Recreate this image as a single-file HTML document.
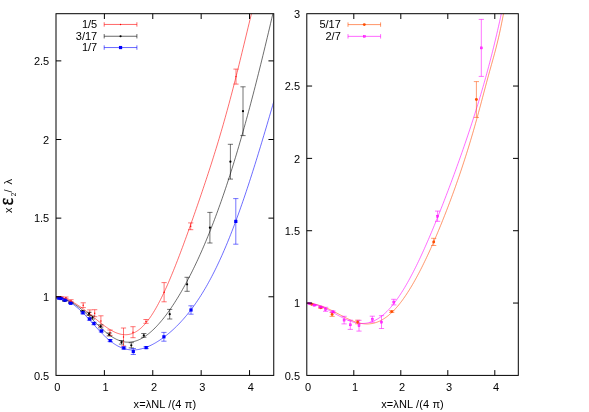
<!DOCTYPE html>
<html><head><meta charset="utf-8"><title>plot</title>
<style>html,body{margin:0;padding:0;background:#fff;}body{width:589px;height:412px;position:relative;overflow:hidden;font-family:"Liberation Sans",sans-serif;}</style>
</head><body>
<svg width="589" height="412" viewBox="0 0 589 412" style="position:absolute;left:0;top:0;display:block;will-change:transform" font-family="Liberation Sans, sans-serif" font-size="11" fill="#000">
<defs><clipPath id="cl"><rect x="56.00" y="13.70" width="217.75" height="361.70"/></clipPath><clipPath id="cr"><rect x="306.80" y="13.70" width="211.50" height="361.70"/></clipPath></defs>
<g clip-path="url(#cl)">
<path d="M56.00,296.77 L56.99,296.89 L57.99,297.04 L58.98,297.21 L59.98,297.40 L60.97,297.62 L61.97,297.86 L62.96,298.13 L63.96,298.42 L64.95,298.74 L65.95,299.08 L66.94,299.45 L67.94,299.85 L68.93,300.27 L69.93,300.72 L70.92,301.19 L71.92,301.69 L72.91,302.21 L73.91,302.76 L74.90,303.33 L75.90,303.92 L76.89,304.54 L77.89,305.17 L78.88,305.83 L79.88,306.50 L80.87,307.20 L81.87,307.91 L82.86,308.64 L83.86,309.38 L84.85,310.14 L85.85,310.91 L86.84,311.69 L87.84,312.49 L88.83,313.29 L89.83,314.10 L90.82,314.91 L91.82,315.73 L92.81,316.55 L93.81,317.38 L94.80,318.20 L95.80,319.02 L96.79,319.84 L97.79,320.66 L98.78,321.46 L99.78,322.26 L100.77,323.05 L101.77,323.83 L102.76,324.59 L103.76,325.34 L104.75,326.08 L105.75,326.79 L106.74,327.49 L107.74,328.16 L108.73,328.81 L109.73,329.43 L110.72,330.03 L111.72,330.60 L112.71,331.14 L113.71,331.65 L114.70,332.13 L115.70,332.57 L116.69,332.97 L117.69,333.33 L118.68,333.66 L119.68,333.95 L120.67,334.19 L121.67,334.39 L122.66,334.55 L123.66,334.65 L124.65,334.72 L125.65,334.73 L126.64,334.69 L127.64,334.60 L128.63,334.46 L129.63,334.27 L130.62,334.02 L131.62,333.72 L132.61,333.36 L133.61,332.95 L134.60,332.47 L135.60,331.94 L136.59,331.36 L137.59,330.71 L138.58,330.00 L139.58,329.24 L140.57,328.41 L141.57,327.52 L142.56,326.58 L143.56,325.57 L144.55,324.51 L145.55,323.38 L146.54,322.20 L147.54,320.95 L148.53,319.65 L149.53,318.29 L150.52,316.87 L151.52,315.40 L152.51,313.87 L153.51,312.28 L154.50,310.64 L155.50,308.95 L156.49,307.20 L157.49,305.41 L158.48,303.56 L159.48,301.67 L160.47,299.72 L161.47,297.73 L162.46,295.70 L163.46,293.62 L164.45,291.50 L165.45,289.33 L166.44,287.13 L167.44,284.89 L168.43,282.61 L169.43,280.29 L170.42,277.94 L171.42,275.56 L172.41,273.14 L173.41,270.70 L174.40,268.22 L175.40,265.72 L176.39,263.19 L177.39,260.63 L178.38,258.05 L179.38,255.45 L180.37,252.83 L181.37,250.18 L182.36,247.52 L183.36,244.84 L184.35,242.14 L185.35,239.42 L186.34,236.69 L187.34,233.94 L188.33,231.18 L189.33,228.40 L190.32,225.61 L191.32,222.81 L192.31,220.00 L193.31,217.17 L194.30,214.33 L195.30,211.48 L196.29,208.62 L197.29,205.75 L198.28,202.87 L199.28,199.98 L200.27,197.07 L201.27,194.15 L202.26,191.22 L203.26,188.27 L204.25,185.31 L205.25,182.33 L206.24,179.34 L207.24,176.33 L208.23,173.29 L209.23,170.24 L210.22,167.17 L211.22,164.08 L212.21,160.96 L213.21,157.82 L214.20,154.65 L215.20,151.45 L216.19,148.22 L217.19,144.97 L218.18,141.68 L219.18,138.36 L220.17,135.01 L221.17,131.63 L222.16,128.21 L223.16,124.75 L224.15,121.26 L225.15,117.73 L226.14,114.17 L227.14,110.56 L228.13,106.92 L229.13,103.25 L230.12,99.53 L231.12,95.78 L232.11,91.99 L233.11,88.17 L234.10,84.31 L235.10,80.41 L236.09,76.49 L237.09,72.54 L238.08,68.55 L239.08,64.54 L240.07,60.51 L241.07,56.45 L242.06,52.38 L243.06,48.29 L244.05,44.19 L245.05,40.08 L246.04,35.97 L247.04,31.86 L248.03,27.75 L249.03,23.66 L250.02,19.58 L251.02,15.53 L252.01,11.50 L253.01,7.52 L254.00,3.57" fill="none" stroke="#ff0000" stroke-width="0.58"/>
<path d="M56.00,296.77 L57.10,296.87 L58.20,297.05 L59.30,297.30 L60.40,297.60 L61.50,297.94 L62.60,298.32 L63.70,298.74 L64.80,299.18 L65.90,299.65 L67.01,300.14 L68.11,300.66 L69.21,301.20 L70.31,301.77 L71.41,302.37 L72.51,302.99 L73.61,303.65 L74.71,304.33 L75.81,305.05 L76.91,305.81 L78.01,306.59 L79.11,307.41 L80.21,308.27 L81.31,309.15 L82.41,310.07 L83.51,311.01 L84.61,311.98 L85.71,312.98 L86.81,314.00 L87.91,315.04 L89.02,316.10 L90.12,317.17 L91.22,318.26 L92.32,319.35 L93.42,320.45 L94.52,321.55 L95.62,322.65 L96.72,323.74 L97.82,324.82 L98.92,325.90 L100.02,326.96 L101.12,328.00 L102.22,329.02 L103.32,330.02 L104.42,330.99 L105.52,331.94 L106.62,332.85 L107.72,333.73 L108.82,334.57 L109.92,335.38 L111.03,336.15 L112.13,336.88 L113.23,337.56 L114.33,338.20 L115.43,338.80 L116.53,339.35 L117.63,339.85 L118.73,340.31 L119.83,340.72 L120.93,341.08 L122.03,341.39 L123.13,341.65 L124.23,341.85 L125.33,342.01 L126.43,342.12 L127.53,342.17 L128.63,342.18 L129.73,342.13 L130.83,342.03 L131.93,341.89 L133.04,341.69 L134.14,341.44 L135.24,341.14 L136.34,340.80 L137.44,340.40 L138.54,339.95 L139.64,339.46 L140.74,338.92 L141.84,338.34 L142.94,337.70 L144.04,337.03 L145.14,336.31 L146.24,335.54 L147.34,334.73 L148.44,333.88 L149.54,332.99 L150.64,332.05 L151.74,331.08 L152.84,330.06 L153.94,329.01 L155.05,327.92 L156.15,326.79 L157.25,325.62 L158.35,324.42 L159.45,323.18 L160.55,321.91 L161.65,320.60 L162.75,319.26 L163.85,317.88 L164.95,316.47 L166.05,315.02 L167.15,313.54 L168.25,312.03 L169.35,310.49 L170.45,308.91 L171.55,307.30 L172.65,305.66 L173.75,303.99 L174.85,302.29 L175.95,300.55 L177.06,298.79 L178.16,296.99 L179.26,295.16 L180.36,293.30 L181.46,291.41 L182.56,289.49 L183.66,287.53 L184.76,285.55 L185.86,283.53 L186.96,281.48 L188.06,279.40 L189.16,277.29 L190.26,275.15 L191.36,272.98 L192.46,270.77 L193.56,268.53 L194.66,266.26 L195.76,263.95 L196.86,261.62 L197.96,259.25 L199.07,256.85 L200.17,254.41 L201.27,251.94 L202.37,249.44 L203.47,246.90 L204.57,244.33 L205.67,241.73 L206.77,239.09 L207.87,236.41 L208.97,233.71 L210.07,230.96 L211.17,228.18 L212.27,225.37 L213.37,222.51 L214.47,219.63 L215.57,216.70 L216.67,213.74 L217.77,210.75 L218.87,207.71 L219.97,204.64 L221.08,201.54 L222.18,198.39 L223.28,195.21 L224.38,191.99 L225.48,188.73 L226.58,185.43 L227.68,182.10 L228.78,178.73 L229.88,175.32 L230.98,171.87 L232.08,168.38 L233.18,164.85 L234.28,161.29 L235.38,157.69 L236.48,154.05 L237.58,150.37 L238.68,146.65 L239.78,142.89 L240.88,139.10 L241.98,135.27 L243.09,131.40 L244.19,127.49 L245.29,123.55 L246.39,119.57 L247.49,115.55 L248.59,111.49 L249.69,107.40 L250.79,103.27 L251.89,99.11 L252.99,94.91 L254.09,90.67 L255.19,86.41 L256.29,82.10 L257.39,77.77 L258.49,73.40 L259.59,69.00 L260.69,64.56 L261.79,60.10 L262.89,55.61 L263.99,51.08 L265.10,46.53 L266.20,41.95 L267.30,37.34 L268.40,32.71 L269.50,28.05 L270.60,23.36 L271.70,18.66 L272.80,13.93 L273.90,9.18 L275.00,4.41" fill="none" stroke="#000000" stroke-width="0.58"/>
<path d="M56.00,296.77 L57.11,296.92 L58.21,297.14 L59.32,297.41 L60.42,297.74 L61.53,298.11 L62.63,298.52 L63.74,298.97 L64.84,299.46 L65.95,299.99 L67.06,300.56 L68.16,301.16 L69.27,301.81 L70.37,302.49 L71.48,303.20 L72.58,303.96 L73.69,304.76 L74.79,305.59 L75.90,306.47 L77.01,307.38 L78.11,308.33 L79.22,309.31 L80.32,310.33 L81.43,311.38 L82.53,312.46 L83.64,313.57 L84.74,314.70 L85.85,315.86 L86.95,317.04 L88.06,318.23 L89.17,319.44 L90.27,320.66 L91.38,321.89 L92.48,323.12 L93.59,324.35 L94.69,325.58 L95.80,326.81 L96.90,328.02 L98.01,329.23 L99.12,330.41 L100.22,331.59 L101.33,332.74 L102.43,333.86 L103.54,334.96 L104.64,336.03 L105.75,337.07 L106.85,338.08 L107.96,339.05 L109.07,339.99 L110.17,340.89 L111.28,341.75 L112.38,342.57 L113.49,343.35 L114.59,344.09 L115.70,344.79 L116.80,345.44 L117.91,346.05 L119.02,346.61 L120.12,347.13 L121.23,347.60 L122.33,348.03 L123.44,348.42 L124.54,348.76 L125.65,349.06 L126.75,349.31 L127.86,349.52 L128.96,349.69 L130.07,349.82 L131.18,349.90 L132.28,349.95 L133.39,349.95 L134.49,349.91 L135.60,349.84 L136.70,349.72 L137.81,349.57 L138.91,349.39 L140.02,349.17 L141.13,348.91 L142.23,348.62 L143.34,348.30 L144.44,347.94 L145.55,347.56 L146.65,347.14 L147.76,346.70 L148.86,346.22 L149.97,345.72 L151.08,345.19 L152.18,344.64 L153.29,344.06 L154.39,343.45 L155.50,342.82 L156.60,342.16 L157.71,341.48 L158.81,340.78 L159.92,340.05 L161.03,339.30 L162.13,338.53 L163.24,337.73 L164.34,336.91 L165.45,336.07 L166.55,335.20 L167.66,334.31 L168.76,333.40 L169.87,332.47 L170.97,331.51 L172.08,330.53 L173.19,329.52 L174.29,328.49 L175.40,327.44 L176.50,326.36 L177.61,325.26 L178.71,324.13 L179.82,322.97 L180.92,321.80 L182.03,320.59 L183.14,319.36 L184.24,318.10 L185.35,316.81 L186.45,315.49 L187.56,314.15 L188.66,312.77 L189.77,311.37 L190.87,309.93 L191.98,308.47 L193.09,306.97 L194.19,305.45 L195.30,303.89 L196.40,302.29 L197.51,300.67 L198.61,299.01 L199.72,297.31 L200.82,295.59 L201.93,293.82 L203.04,292.02 L204.14,290.19 L205.25,288.32 L206.35,286.41 L207.46,284.46 L208.56,282.48 L209.67,280.45 L210.77,278.39 L211.88,276.29 L212.98,274.15 L214.09,271.98 L215.20,269.76 L216.30,267.50 L217.41,265.20 L218.51,262.87 L219.62,260.49 L220.72,258.07 L221.83,255.61 L222.93,253.11 L224.04,250.57 L225.15,248.00 L226.25,245.38 L227.36,242.72 L228.46,240.02 L229.57,237.28 L230.67,234.50 L231.78,231.69 L232.88,228.83 L233.99,225.94 L235.10,223.01 L236.20,220.04 L237.31,217.03 L238.41,213.99 L239.52,210.91 L240.62,207.80 L241.73,204.65 L242.83,201.46 L243.94,198.24 L245.05,194.99 L246.15,191.71 L247.26,188.39 L248.36,185.05 L249.47,181.67 L250.57,178.27 L251.68,174.83 L252.78,171.37 L253.89,167.88 L254.99,164.36 L256.10,160.82 L257.21,157.25 L258.31,153.67 L259.42,150.05 L260.52,146.42 L261.63,142.77 L262.73,139.09 L263.84,135.40 L264.94,131.69 L266.05,127.97 L267.16,124.23 L268.26,120.48 L269.37,116.71 L270.47,112.93 L271.58,109.14 L272.68,105.34 L273.79,101.54 L274.89,97.72 L276.00,93.91" fill="none" stroke="#0000ff" stroke-width="0.58"/>
<path d="M58.50,296.60 V297.40 M55.90,296.60 H61.10 M55.90,297.40 H61.10" stroke="#ff0000" stroke-width="0.55" fill="none"/>
<circle cx="58.50" cy="297.00" r="0.7" fill="#ff0000"/>
<path d="M61.00,296.60 V297.60 M58.40,296.60 H63.60 M58.40,297.60 H63.60" stroke="#ff0000" stroke-width="0.55" fill="none"/>
<circle cx="61.00" cy="297.10" r="0.7" fill="#ff0000"/>
<path d="M65.90,297.00 V298.60 M63.30,297.00 H68.50 M63.30,298.60 H68.50" stroke="#ff0000" stroke-width="0.55" fill="none"/>
<circle cx="65.90" cy="297.80" r="0.7" fill="#ff0000"/>
<path d="M71.00,299.70 V301.70 M68.40,299.70 H73.60 M68.40,301.70 H73.60" stroke="#ff0000" stroke-width="0.55" fill="none"/>
<circle cx="71.00" cy="300.70" r="0.7" fill="#ff0000"/>
<path d="M83.20,302.80 V307.60 M80.60,302.80 H85.80 M80.60,307.60 H85.80" stroke="#ff0000" stroke-width="0.55" fill="none"/>
<circle cx="83.20" cy="305.20" r="0.7" fill="#ff0000"/>
<path d="M89.80,309.90 V315.10 M87.20,309.90 H92.40 M87.20,315.10 H92.40" stroke="#ff0000" stroke-width="0.55" fill="none"/>
<circle cx="89.80" cy="312.50" r="0.7" fill="#ff0000"/>
<path d="M94.70,309.70 V316.70 M92.10,309.70 H97.30 M92.10,316.70 H97.30" stroke="#ff0000" stroke-width="0.55" fill="none"/>
<circle cx="94.70" cy="313.20" r="0.7" fill="#ff0000"/>
<path d="M100.90,315.80 V326.20 M98.30,315.80 H103.50 M98.30,326.20 H103.50" stroke="#ff0000" stroke-width="0.55" fill="none"/>
<circle cx="100.90" cy="321.00" r="0.7" fill="#ff0000"/>
<path d="M110.00,330.00 V335.40 M107.40,330.00 H112.60 M107.40,335.40 H112.60" stroke="#ff0000" stroke-width="0.55" fill="none"/>
<circle cx="110.00" cy="332.70" r="0.7" fill="#ff0000"/>
<path d="M123.50,328.00 V346.00 M120.90,328.00 H126.10 M120.90,346.00 H126.10" stroke="#ff0000" stroke-width="0.55" fill="none"/>
<circle cx="123.50" cy="337.00" r="0.7" fill="#ff0000"/>
<path d="M133.00,326.70 V337.70 M130.40,326.70 H135.60 M130.40,337.70 H135.60" stroke="#ff0000" stroke-width="0.55" fill="none"/>
<circle cx="133.00" cy="332.20" r="0.7" fill="#ff0000"/>
<path d="M146.00,319.50 V323.30 M143.40,319.50 H148.60 M143.40,323.30 H148.60" stroke="#ff0000" stroke-width="0.55" fill="none"/>
<circle cx="146.00" cy="321.40" r="0.7" fill="#ff0000"/>
<path d="M164.10,282.60 V301.80 M161.50,282.60 H166.70 M161.50,301.80 H166.70" stroke="#ff0000" stroke-width="0.55" fill="none"/>
<circle cx="164.10" cy="292.20" r="0.7" fill="#ff0000"/>
<path d="M190.70,222.90 V229.70 M188.10,222.90 H193.30 M188.10,229.70 H193.30" stroke="#ff0000" stroke-width="0.55" fill="none"/>
<circle cx="190.70" cy="226.30" r="0.7" fill="#ff0000"/>
<path d="M236.00,69.10 V84.10 M233.40,69.10 H238.60 M233.40,84.10 H238.60" stroke="#ff0000" stroke-width="0.55" fill="none"/>
<circle cx="236.00" cy="76.60" r="0.7" fill="#ff0000"/>
<path d="M64.60,300.50 V301.30 M62.00,300.50 H67.20 M62.00,301.30 H67.20" stroke="#000000" stroke-width="0.55" fill="none"/>
<circle cx="64.60" cy="300.90" r="1.1" fill="#000000"/>
<path d="M70.70,302.70 V303.30 M68.10,302.70 H73.30 M68.10,303.30 H73.30" stroke="#000000" stroke-width="0.55" fill="none"/>
<circle cx="70.70" cy="303.00" r="1.1" fill="#000000"/>
<path d="M82.60,310.60 V311.80 M80.00,310.60 H85.20 M80.00,311.80 H85.20" stroke="#000000" stroke-width="0.55" fill="none"/>
<circle cx="82.60" cy="311.20" r="1.1" fill="#000000"/>
<path d="M89.00,312.30 V315.30 M86.40,312.30 H91.60 M86.40,315.30 H91.60" stroke="#000000" stroke-width="0.55" fill="none"/>
<circle cx="89.00" cy="313.80" r="1.1" fill="#000000"/>
<path d="M92.50,316.00 V319.00 M89.90,316.00 H95.10 M89.90,319.00 H95.10" stroke="#000000" stroke-width="0.55" fill="none"/>
<circle cx="92.50" cy="317.50" r="1.1" fill="#000000"/>
<path d="M100.70,324.80 V327.80 M98.10,324.80 H103.30 M98.10,327.80 H103.30" stroke="#000000" stroke-width="0.55" fill="none"/>
<circle cx="100.70" cy="326.30" r="1.1" fill="#000000"/>
<path d="M109.20,333.00 V336.00 M106.60,333.00 H111.80 M106.60,336.00 H111.80" stroke="#000000" stroke-width="0.55" fill="none"/>
<circle cx="109.20" cy="334.50" r="1.1" fill="#000000"/>
<path d="M121.50,340.50 V344.10 M118.90,340.50 H124.10 M118.90,344.10 H124.10" stroke="#000000" stroke-width="0.55" fill="none"/>
<circle cx="121.50" cy="342.30" r="1.1" fill="#000000"/>
<path d="M131.30,342.70 V347.90 M128.70,342.70 H133.90 M128.70,347.90 H133.90" stroke="#000000" stroke-width="0.55" fill="none"/>
<circle cx="131.30" cy="345.30" r="1.1" fill="#000000"/>
<path d="M143.80,333.50 V337.30 M141.20,333.50 H146.40 M141.20,337.30 H146.40" stroke="#000000" stroke-width="0.55" fill="none"/>
<circle cx="143.80" cy="335.40" r="1.1" fill="#000000"/>
<path d="M169.70,309.40 V319.00 M167.10,309.40 H172.30 M167.10,319.00 H172.30" stroke="#000000" stroke-width="0.55" fill="none"/>
<circle cx="169.70" cy="314.20" r="1.1" fill="#000000"/>
<path d="M187.10,277.30 V291.30 M184.50,277.30 H189.70 M184.50,291.30 H189.70" stroke="#000000" stroke-width="0.55" fill="none"/>
<circle cx="187.10" cy="284.30" r="1.1" fill="#000000"/>
<path d="M209.90,212.40 V243.00 M207.30,212.40 H212.50 M207.30,243.00 H212.50" stroke="#000000" stroke-width="0.55" fill="none"/>
<circle cx="209.90" cy="227.70" r="1.1" fill="#000000"/>
<path d="M230.40,144.30 V179.10 M227.80,144.30 H233.00 M227.80,179.10 H233.00" stroke="#000000" stroke-width="0.55" fill="none"/>
<circle cx="230.40" cy="161.70" r="1.1" fill="#000000"/>
<path d="M243.00,86.80 V135.60 M240.40,86.80 H245.60 M240.40,135.60 H245.60" stroke="#000000" stroke-width="0.55" fill="none"/>
<circle cx="243.00" cy="111.20" r="1.1" fill="#000000"/>
<path d="M58.80,297.90 V298.50 M56.20,297.90 H61.40 M56.20,298.50 H61.40" stroke="#0000ff" stroke-width="0.55" fill="none"/>
<rect x="57.20" y="296.60" width="3.2" height="3.2" fill="#0000ff"/>
<path d="M61.10,298.20 V298.80 M58.50,298.20 H63.70 M58.50,298.80 H63.70" stroke="#0000ff" stroke-width="0.55" fill="none"/>
<rect x="59.50" y="296.90" width="3.2" height="3.2" fill="#0000ff"/>
<path d="M64.90,299.80 V300.60 M62.30,299.80 H67.50 M62.30,300.60 H67.50" stroke="#0000ff" stroke-width="0.55" fill="none"/>
<rect x="63.30" y="298.60" width="3.2" height="3.2" fill="#0000ff"/>
<path d="M70.70,302.80 V303.80 M68.10,302.80 H73.30 M68.10,303.80 H73.30" stroke="#0000ff" stroke-width="0.55" fill="none"/>
<rect x="69.10" y="301.70" width="3.2" height="3.2" fill="#0000ff"/>
<path d="M82.90,311.80 V313.80 M80.30,311.80 H85.50 M80.30,313.80 H85.50" stroke="#0000ff" stroke-width="0.55" fill="none"/>
<rect x="81.30" y="311.20" width="3.2" height="3.2" fill="#0000ff"/>
<path d="M89.50,317.80 V320.20 M86.90,317.80 H92.10 M86.90,320.20 H92.10" stroke="#0000ff" stroke-width="0.55" fill="none"/>
<rect x="87.90" y="317.40" width="3.2" height="3.2" fill="#0000ff"/>
<path d="M94.00,322.30 V324.70 M91.40,322.30 H96.60 M91.40,324.70 H96.60" stroke="#0000ff" stroke-width="0.55" fill="none"/>
<rect x="92.40" y="321.90" width="3.2" height="3.2" fill="#0000ff"/>
<path d="M101.40,330.00 V332.00 M98.80,330.00 H104.00 M98.80,332.00 H104.00" stroke="#0000ff" stroke-width="0.55" fill="none"/>
<rect x="99.80" y="329.40" width="3.2" height="3.2" fill="#0000ff"/>
<path d="M110.20,339.60 V341.60 M107.60,339.60 H112.80 M107.60,341.60 H112.80" stroke="#0000ff" stroke-width="0.55" fill="none"/>
<rect x="108.60" y="339.00" width="3.2" height="3.2" fill="#0000ff"/>
<path d="M123.80,347.00 V349.00 M121.20,347.00 H126.40 M121.20,349.00 H126.40" stroke="#0000ff" stroke-width="0.55" fill="none"/>
<rect x="122.20" y="346.40" width="3.2" height="3.2" fill="#0000ff"/>
<path d="M133.30,348.50 V354.50 M130.70,348.50 H135.90 M130.70,354.50 H135.90" stroke="#0000ff" stroke-width="0.55" fill="none"/>
<rect x="131.70" y="349.90" width="3.2" height="3.2" fill="#0000ff"/>
<path d="M146.20,346.60 V348.60 M143.60,346.60 H148.80 M143.60,348.60 H148.80" stroke="#0000ff" stroke-width="0.55" fill="none"/>
<rect x="144.60" y="346.00" width="3.2" height="3.2" fill="#0000ff"/>
<path d="M163.90,332.40 V341.20 M161.30,332.40 H166.50 M161.30,341.20 H166.50" stroke="#0000ff" stroke-width="0.55" fill="none"/>
<rect x="162.30" y="335.20" width="3.2" height="3.2" fill="#0000ff"/>
<path d="M191.00,305.80 V314.20 M188.40,305.80 H193.60 M188.40,314.20 H193.60" stroke="#0000ff" stroke-width="0.55" fill="none"/>
<rect x="189.40" y="308.40" width="3.2" height="3.2" fill="#0000ff"/>
<path d="M235.80,198.60 V244.20 M233.20,198.60 H238.40 M233.20,244.20 H238.40" stroke="#0000ff" stroke-width="0.55" fill="none"/>
<rect x="234.20" y="219.80" width="3.2" height="3.2" fill="#0000ff"/>
</g>
<g clip-path="url(#cr)">
<path d="M306.80,303.08 L307.80,303.17 L308.80,303.27 L309.80,303.38 L310.79,303.52 L311.79,303.66 L312.79,303.83 L313.79,304.01 L314.79,304.21 L315.79,304.43 L316.78,304.68 L317.78,304.94 L318.78,305.22 L319.78,305.52 L320.78,305.84 L321.78,306.18 L322.78,306.53 L323.77,306.91 L324.77,307.30 L325.77,307.71 L326.77,308.14 L327.77,308.58 L328.77,309.04 L329.77,309.51 L330.76,309.99 L331.76,310.48 L332.76,310.99 L333.76,311.50 L334.76,312.02 L335.76,312.54 L336.75,313.07 L337.75,313.60 L338.75,314.13 L339.75,314.67 L340.75,315.20 L341.75,315.73 L342.75,316.25 L343.74,316.77 L344.74,317.28 L345.74,317.79 L346.74,318.28 L347.74,318.76 L348.74,319.23 L349.74,319.68 L350.73,320.12 L351.73,320.53 L352.73,320.94 L353.73,321.32 L354.73,321.68 L355.73,322.01 L356.72,322.33 L357.72,322.62 L358.72,322.88 L359.72,323.12 L360.72,323.33 L361.72,323.51 L362.72,323.67 L363.71,323.79 L364.71,323.88 L365.71,323.94 L366.71,323.97 L367.71,323.96 L368.71,323.92 L369.71,323.84 L370.70,323.73 L371.70,323.59 L372.70,323.40 L373.70,323.19 L374.70,322.93 L375.70,322.64 L376.69,322.30 L377.69,321.93 L378.69,321.52 L379.69,321.07 L380.69,320.59 L381.69,320.06 L382.69,319.49 L383.68,318.89 L384.68,318.24 L385.68,317.55 L386.68,316.82 L387.68,316.06 L388.68,315.25 L389.67,314.40 L390.67,313.51 L391.67,312.59 L392.67,311.62 L393.67,310.61 L394.67,309.57 L395.67,308.48 L396.66,307.36 L397.66,306.19 L398.66,304.99 L399.66,303.75 L400.66,302.47 L401.66,301.16 L402.66,299.81 L403.65,298.42 L404.65,296.99 L405.65,295.53 L406.65,294.04 L407.65,292.51 L408.65,290.94 L409.64,289.34 L410.64,287.71 L411.64,286.05 L412.64,284.35 L413.64,282.62 L414.64,280.86 L415.64,279.07 L416.63,277.25 L417.63,275.39 L418.63,273.51 L419.63,271.60 L420.63,269.66 L421.63,267.70 L422.63,265.70 L423.62,263.68 L424.62,261.63 L425.62,259.56 L426.62,257.46 L427.62,255.33 L428.62,253.18 L429.61,251.01 L430.61,248.81 L431.61,246.58 L432.61,244.33 L433.61,242.06 L434.61,239.77 L435.61,237.45 L436.60,235.11 L437.60,232.75 L438.60,230.36 L439.60,227.95 L440.60,225.52 L441.60,223.07 L442.59,220.59 L443.59,218.09 L444.59,215.57 L445.59,213.03 L446.59,210.46 L447.59,207.87 L448.59,205.26 L449.58,202.62 L450.58,199.96 L451.58,197.27 L452.58,194.56 L453.58,191.82 L454.58,189.06 L455.58,186.27 L456.57,183.45 L457.57,180.60 L458.57,177.73 L459.57,174.82 L460.57,171.88 L461.57,168.91 L462.56,165.91 L463.56,162.87 L464.56,159.80 L465.56,156.69 L466.56,153.55 L467.56,150.36 L468.56,147.13 L469.55,143.87 L470.55,140.55 L471.55,137.20 L472.55,133.80 L473.55,130.36 L474.55,126.87 L475.55,123.34 L476.54,119.77 L477.54,116.16 L478.54,112.52 L479.54,108.84 L480.54,105.13 L481.54,101.40 L482.53,97.65 L483.53,93.90 L484.53,90.13 L485.53,86.38 L486.53,82.65 L487.53,78.94 L488.53,75.27 L489.52,71.63 L490.52,68.04 L491.52,64.47 L492.52,60.90 L493.52,57.30 L494.52,53.65 L495.52,49.90 L496.51,46.02 L497.51,41.98 L498.51,37.76 L499.51,33.35 L500.51,28.72 L501.51,23.88 L502.50,18.86 L503.50,13.69 L504.50,8.41 L505.50,3.12" fill="none" stroke="#ff4d00" stroke-width="0.58"/>
<path d="M306.80,303.12 L307.79,303.13 L308.78,303.18 L309.77,303.27 L310.75,303.39 L311.74,303.55 L312.73,303.73 L313.72,303.95 L314.71,304.20 L315.70,304.48 L316.68,304.78 L317.67,305.11 L318.66,305.47 L319.65,305.84 L320.64,306.24 L321.63,306.67 L322.62,307.11 L323.60,307.57 L324.59,308.04 L325.58,308.53 L326.57,309.03 L327.56,309.55 L328.55,310.07 L329.53,310.61 L330.52,311.15 L331.51,311.69 L332.50,312.25 L333.49,312.80 L334.48,313.35 L335.46,313.91 L336.45,314.46 L337.44,315.01 L338.43,315.55 L339.42,316.09 L340.41,316.62 L341.40,317.14 L342.38,317.65 L343.37,318.14 L344.36,318.63 L345.35,319.09 L346.34,319.55 L347.33,319.98 L348.31,320.39 L349.30,320.78 L350.29,321.15 L351.28,321.50 L352.27,321.83 L353.26,322.12 L354.25,322.39 L355.23,322.64 L356.22,322.85 L357.21,323.04 L358.20,323.19 L359.19,323.31 L360.18,323.40 L361.16,323.46 L362.15,323.48 L363.14,323.47 L364.13,323.42 L365.12,323.33 L366.11,323.21 L367.09,323.05 L368.08,322.85 L369.07,322.62 L370.06,322.34 L371.05,322.03 L372.04,321.68 L373.03,321.28 L374.01,320.85 L375.00,320.38 L375.99,319.86 L376.98,319.31 L377.97,318.71 L378.96,318.08 L379.94,317.40 L380.93,316.68 L381.92,315.92 L382.91,315.12 L383.90,314.28 L384.89,313.40 L385.88,312.47 L386.86,311.51 L387.85,310.50 L388.84,309.46 L389.83,308.38 L390.82,307.25 L391.81,306.09 L392.79,304.89 L393.78,303.65 L394.77,302.37 L395.76,301.05 L396.75,299.69 L397.74,298.30 L398.73,296.87 L399.71,295.41 L400.70,293.91 L401.69,292.37 L402.68,290.80 L403.67,289.19 L404.66,287.55 L405.64,285.88 L406.63,284.17 L407.62,282.44 L408.61,280.67 L409.60,278.87 L410.59,277.03 L411.57,275.17 L412.56,273.28 L413.55,271.36 L414.54,269.42 L415.53,267.44 L416.52,265.44 L417.51,263.41 L418.49,261.36 L419.48,259.28 L420.47,257.18 L421.46,255.05 L422.45,252.90 L423.44,250.73 L424.42,248.53 L425.41,246.31 L426.40,244.07 L427.39,241.81 L428.38,239.54 L429.37,237.24 L430.36,234.92 L431.34,232.58 L432.33,230.23 L433.32,227.85 L434.31,225.46 L435.30,223.05 L436.29,220.63 L437.27,218.19 L438.26,215.73 L439.25,213.26 L440.24,210.77 L441.23,208.27 L442.22,205.75 L443.21,203.22 L444.19,200.68 L445.18,198.12 L446.17,195.54 L447.16,192.95 L448.15,190.35 L449.14,187.73 L450.12,185.10 L451.11,182.46 L452.10,179.80 L453.09,177.13 L454.08,174.44 L455.07,171.74 L456.05,169.02 L457.04,166.29 L458.03,163.54 L459.02,160.77 L460.01,157.99 L461.00,155.20 L461.99,152.38 L462.97,149.55 L463.96,146.70 L464.95,143.83 L465.94,140.94 L466.93,138.03 L467.92,135.10 L468.90,132.14 L469.89,129.16 L470.88,126.16 L471.87,123.13 L472.86,120.08 L473.85,117.00 L474.84,113.89 L475.82,110.75 L476.81,107.58 L477.80,104.37 L478.79,101.13 L479.78,97.86 L480.77,94.55 L481.75,91.19 L482.74,87.80 L483.73,84.37 L484.72,80.88 L485.71,77.36 L486.70,73.78 L487.68,70.16 L488.67,66.48 L489.66,62.74 L490.65,58.95 L491.64,55.10 L492.63,51.18 L493.62,47.20 L494.60,43.15 L495.59,39.04 L496.58,34.84 L497.57,30.58 L498.56,26.23 L499.55,21.80 L500.53,17.29 L501.52,12.68 L502.51,7.99 L503.50,3.20" fill="none" stroke="#ff00ff" stroke-width="0.58"/>
<path d="M311.60,303.80 V304.60 M309.00,303.80 H314.20 M309.00,304.60 H314.20" stroke="#ff4d00" stroke-width="0.55" fill="none"/>
<circle cx="311.60" cy="304.20" r="1.45" fill="#ff4d00"/>
<path d="M320.80,307.10 V308.30 M318.20,307.10 H323.40 M318.20,308.30 H323.40" stroke="#ff4d00" stroke-width="0.55" fill="none"/>
<circle cx="320.80" cy="307.70" r="1.45" fill="#ff4d00"/>
<path d="M332.10,312.40 V316.40 M329.50,312.40 H334.70 M329.50,316.40 H334.70" stroke="#ff4d00" stroke-width="0.55" fill="none"/>
<circle cx="332.10" cy="314.40" r="1.45" fill="#ff4d00"/>
<path d="M357.70,320.20 V323.80 M355.10,320.20 H360.30 M355.10,323.80 H360.30" stroke="#ff4d00" stroke-width="0.55" fill="none"/>
<circle cx="357.70" cy="322.00" r="1.45" fill="#ff4d00"/>
<path d="M391.70,310.70 V312.50 M389.10,310.70 H394.30 M389.10,312.50 H394.30" stroke="#ff4d00" stroke-width="0.55" fill="none"/>
<circle cx="391.70" cy="311.60" r="1.45" fill="#ff4d00"/>
<path d="M433.70,238.30 V245.50 M431.10,238.30 H436.30 M431.10,245.50 H436.30" stroke="#ff4d00" stroke-width="0.55" fill="none"/>
<circle cx="433.70" cy="241.90" r="1.45" fill="#ff4d00"/>
<path d="M476.40,81.60 V117.40 M473.80,81.60 H479.00 M473.80,117.40 H479.00" stroke="#ff4d00" stroke-width="0.55" fill="none"/>
<circle cx="476.40" cy="99.50" r="1.45" fill="#ff4d00"/>
<path d="M309.50,303.30 V303.90 M306.90,303.30 H312.10 M306.90,303.90 H312.10" stroke="#ff00ff" stroke-width="0.55" fill="none"/>
<rect x="308.50" y="302.60" width="2.0" height="2.0" fill="#ff00ff" fill-opacity="0.55" stroke="#ff00ff" stroke-width="0.5"/>
<path d="M314.70,304.80 V305.60 M312.10,304.80 H317.30 M312.10,305.60 H317.30" stroke="#ff00ff" stroke-width="0.55" fill="none"/>
<rect x="313.70" y="304.20" width="2.0" height="2.0" fill="#ff00ff" fill-opacity="0.55" stroke="#ff00ff" stroke-width="0.5"/>
<path d="M320.80,306.40 V307.60 M318.20,306.40 H323.40 M318.20,307.60 H323.40" stroke="#ff00ff" stroke-width="0.55" fill="none"/>
<rect x="319.80" y="306.00" width="2.0" height="2.0" fill="#ff00ff" fill-opacity="0.55" stroke="#ff00ff" stroke-width="0.5"/>
<path d="M325.60,307.30 V311.30 M323.00,307.30 H328.20 M323.00,311.30 H328.20" stroke="#ff00ff" stroke-width="0.55" fill="none"/>
<rect x="324.60" y="308.30" width="2.0" height="2.0" fill="#ff00ff" fill-opacity="0.55" stroke="#ff00ff" stroke-width="0.5"/>
<path d="M333.00,311.00 V312.60 M330.40,311.00 H335.60 M330.40,312.60 H335.60" stroke="#ff00ff" stroke-width="0.55" fill="none"/>
<rect x="332.00" y="310.80" width="2.0" height="2.0" fill="#ff00ff" fill-opacity="0.55" stroke="#ff00ff" stroke-width="0.5"/>
<path d="M344.10,316.30 V323.90 M341.50,316.30 H346.70 M341.50,323.90 H346.70" stroke="#ff00ff" stroke-width="0.55" fill="none"/>
<rect x="343.10" y="319.10" width="2.0" height="2.0" fill="#ff00ff" fill-opacity="0.55" stroke="#ff00ff" stroke-width="0.5"/>
<path d="M350.30,320.20 V329.40 M347.70,320.20 H352.90 M347.70,329.40 H352.90" stroke="#ff00ff" stroke-width="0.55" fill="none"/>
<rect x="349.30" y="323.80" width="2.0" height="2.0" fill="#ff00ff" fill-opacity="0.55" stroke="#ff00ff" stroke-width="0.5"/>
<path d="M359.00,320.30 V331.10 M356.40,320.30 H361.60 M356.40,331.10 H361.60" stroke="#ff00ff" stroke-width="0.55" fill="none"/>
<rect x="358.00" y="324.70" width="2.0" height="2.0" fill="#ff00ff" fill-opacity="0.55" stroke="#ff00ff" stroke-width="0.5"/>
<path d="M372.30,316.20 V322.20 M369.70,316.20 H374.90 M369.70,322.20 H374.90" stroke="#ff00ff" stroke-width="0.55" fill="none"/>
<rect x="371.30" y="318.20" width="2.0" height="2.0" fill="#ff00ff" fill-opacity="0.55" stroke="#ff00ff" stroke-width="0.5"/>
<path d="M381.50,315.70 V328.50 M378.90,315.70 H384.10 M378.90,328.50 H384.10" stroke="#ff00ff" stroke-width="0.55" fill="none"/>
<rect x="380.50" y="321.10" width="2.0" height="2.0" fill="#ff00ff" fill-opacity="0.55" stroke="#ff00ff" stroke-width="0.5"/>
<path d="M393.80,299.30 V304.90 M391.20,299.30 H396.40 M391.20,304.90 H396.40" stroke="#ff00ff" stroke-width="0.55" fill="none"/>
<rect x="392.80" y="301.10" width="2.0" height="2.0" fill="#ff00ff" fill-opacity="0.55" stroke="#ff00ff" stroke-width="0.5"/>
<path d="M437.60,211.10 V221.30 M435.00,211.10 H440.20 M435.00,221.30 H440.20" stroke="#ff00ff" stroke-width="0.55" fill="none"/>
<rect x="436.60" y="215.20" width="2.0" height="2.0" fill="#ff00ff" fill-opacity="0.55" stroke="#ff00ff" stroke-width="0.5"/>
<path d="M481.30,19.40 V76.40 M478.70,19.40 H483.90 M478.70,76.40 H483.90" stroke="#ff00ff" stroke-width="0.55" fill="none"/>
<rect x="480.30" y="46.90" width="2.0" height="2.0" fill="#ff00ff" fill-opacity="0.55" stroke="#ff00ff" stroke-width="0.5"/>
</g>
<rect x="56.00" y="13.70" width="217.75" height="361.70" fill="none" stroke="#000" stroke-width="1"/>
<text x="57.20" y="391.00" text-anchor="middle">0</text>
<path d="M104.39,375.40 v-5.3 M104.39,13.70 v5.3" stroke="#000" stroke-width="1"/>
<text x="105.59" y="391.00" text-anchor="middle">1</text>
<path d="M152.78,375.40 v-5.3 M152.78,13.70 v5.3" stroke="#000" stroke-width="1"/>
<text x="153.98" y="391.00" text-anchor="middle">2</text>
<path d="M201.17,375.40 v-5.3 M201.17,13.70 v5.3" stroke="#000" stroke-width="1"/>
<text x="202.37" y="391.00" text-anchor="middle">3</text>
<path d="M249.56,375.40 v-5.3 M249.56,13.70 v5.3" stroke="#000" stroke-width="1"/>
<text x="250.76" y="391.00" text-anchor="middle">4</text>
<text x="49.20" y="379.60" text-anchor="end">0.5</text>
<path d="M56.00,296.77 h5.3 M273.75,296.77 h-5.3" stroke="#000" stroke-width="1"/>
<text x="49.20" y="300.97" text-anchor="end">1</text>
<path d="M56.00,218.14 h5.3 M273.75,218.14 h-5.3" stroke="#000" stroke-width="1"/>
<text x="49.20" y="222.34" text-anchor="end">1.5</text>
<path d="M56.00,139.51 h5.3 M273.75,139.51 h-5.3" stroke="#000" stroke-width="1"/>
<text x="49.20" y="143.71" text-anchor="end">2</text>
<path d="M56.00,60.88 h5.3 M273.75,60.88 h-5.3" stroke="#000" stroke-width="1"/>
<text x="49.20" y="65.08" text-anchor="end">2.5</text>
<rect x="306.80" y="13.70" width="211.50" height="361.70" fill="none" stroke="#000" stroke-width="1"/>
<text x="308.00" y="391.00" text-anchor="middle">0</text>
<path d="M353.80,375.40 v-5.3 M353.80,13.70 v5.3" stroke="#000" stroke-width="1"/>
<text x="355.00" y="391.00" text-anchor="middle">1</text>
<path d="M400.80,375.40 v-5.3 M400.80,13.70 v5.3" stroke="#000" stroke-width="1"/>
<text x="402.00" y="391.00" text-anchor="middle">2</text>
<path d="M447.80,375.40 v-5.3 M447.80,13.70 v5.3" stroke="#000" stroke-width="1"/>
<text x="449.00" y="391.00" text-anchor="middle">3</text>
<path d="M494.80,375.40 v-5.3 M494.80,13.70 v5.3" stroke="#000" stroke-width="1"/>
<text x="496.00" y="391.00" text-anchor="middle">4</text>
<text x="300.00" y="379.60" text-anchor="end">0.5</text>
<path d="M306.80,303.06 h5.3 M518.30,303.06 h-5.3" stroke="#000" stroke-width="1"/>
<text x="300.00" y="307.26" text-anchor="end">1</text>
<path d="M306.80,230.72 h5.3 M518.30,230.72 h-5.3" stroke="#000" stroke-width="1"/>
<text x="300.00" y="234.92" text-anchor="end">1.5</text>
<path d="M306.80,158.38 h5.3 M518.30,158.38 h-5.3" stroke="#000" stroke-width="1"/>
<text x="300.00" y="162.58" text-anchor="end">2</text>
<path d="M306.80,86.04 h5.3 M518.30,86.04 h-5.3" stroke="#000" stroke-width="1"/>
<text x="300.00" y="90.24" text-anchor="end">2.5</text>
<text x="300.00" y="17.90" text-anchor="end">3</text>
<text x="97.20" y="28.05" text-anchor="end">1/5</text>
<path d="M104.20,24.45 H136.90 M104.20,22.25 v4.4 M136.90,22.25 v4.4" stroke="#ff0000" stroke-width="0.6" fill="none"/>
<circle cx="120.55" cy="24.45" r="0.7" fill="#ff0000"/>
<text x="97.20" y="39.85" text-anchor="end">3/17</text>
<path d="M104.20,36.25 H136.90 M104.20,34.05 v4.4 M136.90,34.05 v4.4" stroke="#000000" stroke-width="0.6" fill="none"/>
<circle cx="120.55" cy="36.25" r="1.1" fill="#000000"/>
<text x="97.20" y="51.15" text-anchor="end">1/7</text>
<path d="M104.20,47.55 H136.90 M104.20,45.35 v4.4 M136.90,45.35 v4.4" stroke="#0000ff" stroke-width="0.6" fill="none"/>
<rect x="118.95" y="45.95" width="3.2" height="3.2" fill="#0000ff"/>
<text x="340.80" y="28.20" text-anchor="end">5/17</text>
<path d="M348.00,24.60 H380.60 M348.00,22.40 v4.4 M380.60,22.40 v4.4" stroke="#ff4d00" stroke-width="0.6" fill="none"/>
<circle cx="364.30" cy="24.60" r="1.45" fill="#ff4d00"/>
<text x="340.80" y="39.95" text-anchor="end">2/7</text>
<path d="M348.00,36.35 H380.60 M348.00,34.15 v4.4 M380.60,34.15 v4.4" stroke="#ff00ff" stroke-width="0.6" fill="none"/>
<rect x="363.30" y="35.35" width="2.0" height="2.0" fill="#ff00ff" fill-opacity="0.55" stroke="#ff00ff" stroke-width="0.5"/>
<text x="164.88" y="407.6" text-anchor="middle" letter-spacing="0.12">x=λNL /(4 π)</text>
<text x="412.55" y="407.6" text-anchor="middle" letter-spacing="0.12">x=λNL /(4 π)</text>
<g transform="translate(12.1,213.1) rotate(-90)"><text x="0" y="0" font-size="11">x</text><text transform="translate(7.9,1) scale(0.8,1)" x="0" y="0" font-family="Liberation Serif, serif" font-size="21.5" stroke="#000" stroke-width="0.5">ε</text><text x="16.8" y="3.7" font-size="6.5">2</text><text x="20.6" y="0" font-size="11">/</text><text x="28.7" y="0" font-size="11">λ</text></g>
</svg>
</body></html>
